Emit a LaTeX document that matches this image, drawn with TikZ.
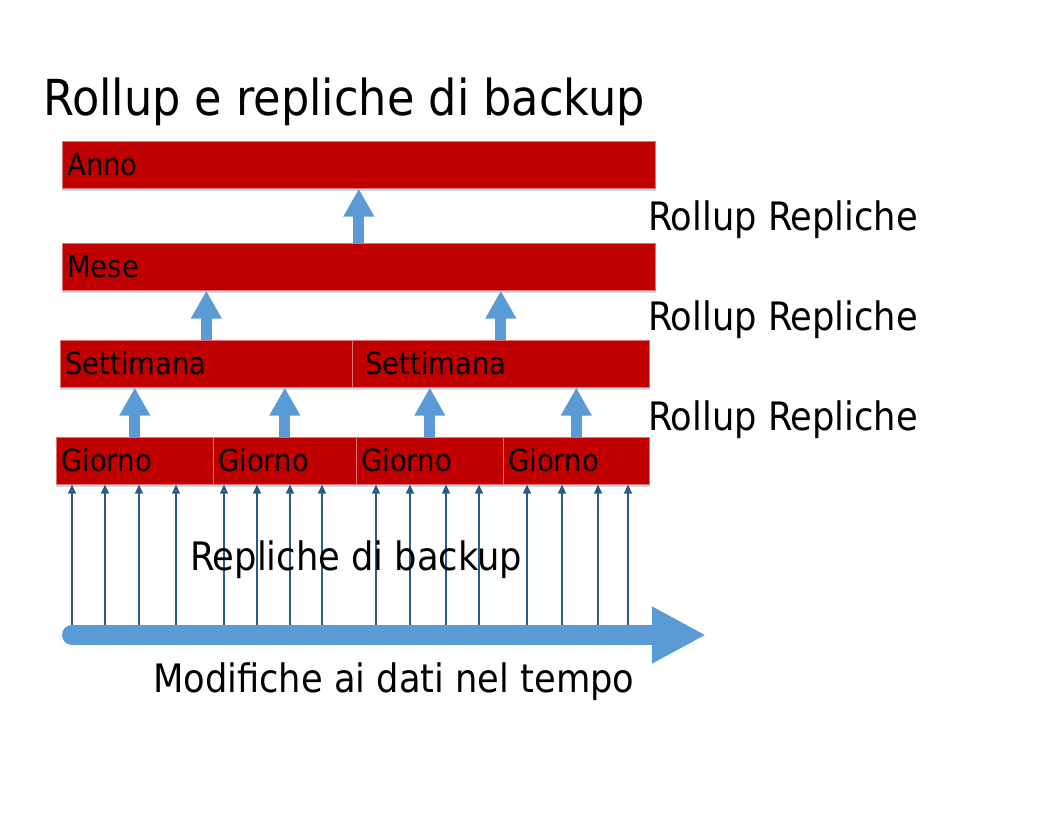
\documentclass[tikz,border=0pt]{standalone}
\usepackage{fontspec}
\setmainfont{DejaVu Sans Condensed}
\usepackage{tikz}
\usetikzlibrary{arrows.meta}
\usetikzlibrary{positioning}
\definecolor{barred}{HTML}{C00000}
\definecolor{rollblue}{HTML}{5B9BD5}
\definecolor{repblue}{HTML}{2B5A87}
\definecolor{shadeblue}{HTML}{C9DCEF}
\tikzstyle{bar} = [rectangle, anchor=north west, fill=barred, draw=barred!55!white, line width=0.6pt, minimum height=47pt, inner xsep=5pt, inner ysep=0pt, align=left, text height=22pt, text depth=0pt, font=\fontsize{30.5}{34}\selectfont]
\tikzstyle{big} = [inner sep=0pt, anchor=base west, font=\fontsize{39.2}{44}\selectfont]
\tikzstyle{rollup} = [draw=rollblue, line width=11pt, -{Triangle[width=29pt,length=28pt]}]
\tikzstyle{replica} = [draw=repblue, line width=1.3pt, -{Triangle[width=8pt,length=9pt]}]
\tikzstyle{timeline} = [draw=rollblue, line width=20pt, line cap=round, -{Triangle[width=53pt,length=54pt]}]

\begin{document}
\begin{tikzpicture}[x=1pt, y=-1pt]
\useasboundingbox (0,0) rectangle (1056,816);

\node (title) [inner sep=0pt, anchor=base west, font=\fontsize{49.6}{56}\selectfont] at (43,115) {Rollup e repliche di backup};

\node (anno) [bar, text width=583pt] at (62,141) {Anno};
\node (mese) [bar, text width=583pt] at (62,243) {Mese};
\node (s1) [bar, text width=282pt] at (60,340) {Settimana};
\node (s2) [bar, inner xsep=13pt, text width=271pt] at (352,340) {Settimana};
\node (g1) [bar, text width=147pt] at (56,437) {Giorno};
\node (g2) [bar, text width=133pt] at (213,437) {Giorno};
\node (g3) [bar, text width=137pt] at (356,437) {Giorno};
\node (g4) [bar, text width=136pt] at (503,437) {Giorno};

\foreach \b in {anno,mese,s1,s2,g1,g2,g3,g4}
  \draw[shadeblue, line width=1.5pt] ([yshift=-1.2pt]\b.south west) -- ([yshift=-1.2pt]\b.south east);

\node (r1) [big] at (648,230) {Rollup Repliche};
\node (r2) [big] at (648,330) {Rollup Repliche};
\node (r3) [big] at (648,430) {Rollup Repliche};

\draw[rollup] (mese.north) -- (mese.north |- anno.south);
\draw[rollup] (s1.north) -- (s1.north |- mese.south);
\draw[rollup] (s2.north) -- (s2.north |- mese.south);
\draw[rollup] (g1.north) -- (g1.north |- s1.south);
\draw[rollup] (g2.north) -- (g2.north |- s1.south);
\draw[rollup] (g3.north) -- (g3.north |- s2.south);
\draw[rollup] (g4.north) -- (g4.north |- s2.south);

\coordinate (tstart) at (72,635);
\coordinate (tend) at (706,635);

\foreach \g/\xs in {g1/{72,105,139,176}, g2/{224,257,290,322}, g3/{376,410,446,479}, g4/{527,562,598,628}}
  \foreach \x in \xs
    \draw[replica] (\x,0 |- tstart) -- (\x,0 |- \g.south);

\draw[timeline] (tstart) -- (tend);

\node (repl) [big] at (190,570) {Repliche di backup};
\node (mod) [big] at (153,692) {Modifiche ai dati nel tempo};
\end{tikzpicture}
\end{document}
